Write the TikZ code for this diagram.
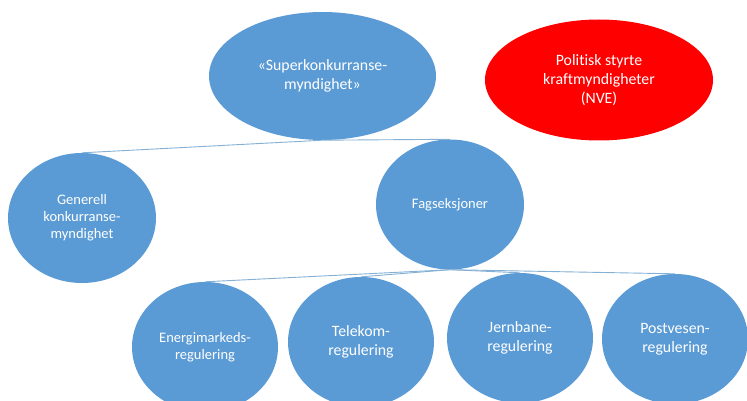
\documentclass[tikz,border=0pt]{standalone}
\usepackage{fontspec}
\setmainfont{Carlito}[Ligatures=NoCommon]
\usetikzlibrary{shapes.geometric}
\definecolor{officeblue}{RGB}{91,155,213}
\definecolor{linkblue}{RGB}{132,176,214}
\begin{document}
\begin{tikzpicture}[
        x=1pt, y=-1pt,
        bubble/.style={ellipse, fill=officeblue, text=white, inner sep=0pt,
            minimum width=148pt, minimum height=130pt, align=center},
        big/.style={font=\fontsize{15.8}{18.8}\selectfont},
        small/.style={font=\fontsize{14.5}{16.8}\selectfont},
        link/.style={draw=linkblue, line width=0.9pt},
    ]
        \clip (0, 0) rectangle (747, 401);
        \fill[white] (0, 0) rectangle (747, 401);

        \node[bubble, big, minimum width=227pt, minimum height=128pt] (super) at (322.5, 76) {«Superkonkurranse-\\myndighet»};
        \node[bubble, big, fill=red, minimum width=228pt, minimum height=121pt] (nve) at (599, 80) {Politisk styrte\\kraftmyndigheter\\(NVE)};

        \node[bubble, small] (generell) at (82, 218) {Generell\\konkurranse-\\myndighet};
        \node[bubble, small] (fag) at (450, 204.5) {Fagseksjoner};

        \node[bubble, small, minimum width=146pt] (energi) at (205, 347) {Energimarkeds-\\regulering};
        \node[bubble, big, minimum width=146pt] (telekom) at (361, 342) {Telekom-\\regulering};
        \node[bubble, big, minimum width=146pt] (jernbane) at (520, 338) {Jernbane-\\regulering};
        \node[bubble, big, minimum width=146pt] (post) at (675, 339) {Postvesen-\\regulering};

        \draw[link] (super.south) -- (generell.north);
        \draw[link] (super.south) -- (fag.north);
        \draw[link] (fag.south) -- (energi.north);
        \draw[link] (fag.south) -- (telekom.north);
        \draw[link] (fag.south) -- (jernbane.north);
        \draw[link] (fag.south) -- (post.north);
    \end{tikzpicture}
\end{document}
